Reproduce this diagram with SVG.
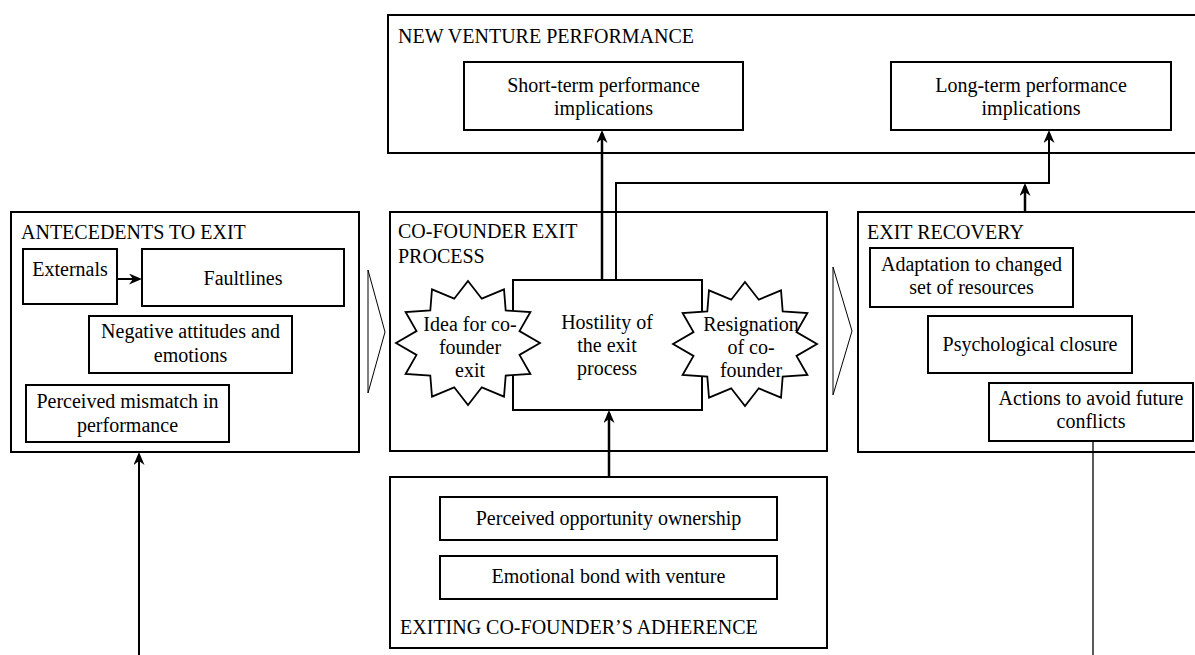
<svg xmlns="http://www.w3.org/2000/svg" xmlns:xlink="http://www.w3.org/1999/xlink" width="1195" height="655" viewBox="0 0 1195 655" font-family="'Liberation Serif', serif">
<style>
  text{font-family:'Liberation Serif','DejaVu Serif',serif;font-size:20px;fill:#000}
  .c{text-anchor:middle}
  .box{fill:#fff;stroke:#000;stroke-width:2}
  .chev{fill:#fff;stroke:#000;stroke-width:1}
  .star{fill:#fff;stroke:#000;stroke-width:1.8;stroke-linejoin:miter}
  .arr{fill:none;stroke:#000;stroke-width:2.5;marker-end:url(#ah)}
  .arr2{fill:none;stroke:#000;stroke-width:2;marker-end:url(#ah)}
  .ln{fill:none;stroke:#000;stroke-width:1.3}
</style>
<defs>
  <marker id="ah" markerUnits="userSpaceOnUse" viewBox="0 0 13 11" refX="10" refY="5.5" markerWidth="13" markerHeight="11" orient="auto">
    <path d="M0,0 L13,5.5 L0,11 L4,5.5 Z" fill="#000"/>
  </marker>
  <path id="burst" d="M0,-62 L13.8,-44.3 L36,-53.7 L37.7,-32.5 L62.4,-31 L51.5,-11.9 L72,0 L51.5,11.9 L62.4,31 L37.7,32.5 L36,53.7 L13.8,44.3 L0,62 L-13.8,44.3 L-36,53.7 L-37.7,32.5 L-62.4,31 L-51.5,11.9 L-72,0 L-51.5,-11.9 L-62.4,-31 L-37.7,-32.5 L-36,-53.7 L-13.8,-44.3 Z"/>
</defs>
<rect width="1195" height="655" fill="#fff"/>

<g id="new-venture-performance">
  <rect class="box" x="388" y="15" width="820" height="138"/>
  <text x="398" y="43">NEW VENTURE PERFORMANCE</text>
</g>
<g id="short-term">
  <rect class="box" x="464" y="62" width="279" height="68"/>
  <text class="c" x="603.5" y="92">Short-term performance</text>
  <text class="c" x="603.5" y="115">implications</text>
</g>
<g id="long-term">
  <rect class="box" x="891" y="62" width="280" height="68"/>
  <text class="c" x="1031" y="92">Long-term performance</text>
  <text class="c" x="1031" y="115">implications</text>
</g>

<g id="antecedents">
  <rect class="box" x="11" y="212" width="348" height="240"/>
  <text x="21" y="239">ANTECEDENTS TO EXIT</text>
</g>
<g id="externals">
  <rect class="box" x="23" y="249" width="94" height="55"/>
  <text class="c" x="70" y="276">Externals</text>
</g>
<g id="faultlines">
  <rect class="box" x="142" y="249" width="202" height="57"/>
  <text class="c" x="243" y="285">Faultlines</text>
</g>
<g id="negative-attitudes">
  <rect class="box" x="89" y="316" width="203" height="57"/>
  <text class="c" x="190.5" y="338">Negative attitudes and</text>
  <text class="c" x="190.5" y="362">emotions</text>
</g>
<g id="perceived-mismatch">
  <rect class="box" x="26" y="385" width="203" height="57"/>
  <text class="c" x="127.5" y="408">Perceived mismatch in</text>
  <text class="c" x="127.5" y="432">performance</text>
</g>

<g id="chevron-1"><polygon class="chev" points="368,270 385,332 368,393"/></g>

<g id="exit-process">
  <rect class="box" x="390" y="212" width="437" height="239"/>
  <text x="398" y="238">CO-FOUNDER EXIT</text>
  <text x="398" y="263">PROCESS</text>
</g>
<g id="hostility">
  <rect class="box" x="513" y="280" width="189" height="130"/>
  <text class="c" x="607" y="329">Hostility of</text>
  <text class="c" x="607" y="352">the exit</text>
  <text class="c" x="607" y="375">process</text>
</g>
<g id="idea">
  <use xlink:href="#burst" class="star" x="468" y="343"/>
  <text class="c" x="470" y="331">Idea for co-</text>
  <text class="c" x="470" y="354">founder</text>
  <text class="c" x="470" y="377">exit</text>
</g>
<g id="resignation">
  <use xlink:href="#burst" class="star" x="745" y="344"/>
  <text class="c" x="751" y="331">Resignation</text>
  <text class="c" x="751" y="354">of co-</text>
  <text class="c" x="751" y="377">founder</text>
</g>

<g id="chevron-2"><polygon class="chev" points="833,267 852,331 833,395"/></g>

<g id="exit-recovery">
  <rect class="box" x="858" y="212" width="360" height="240"/>
  <text x="867" y="239">EXIT RECOVERY</text>
</g>
<g id="adaptation">
  <rect class="box" x="870" y="248" width="203" height="59"/>
  <text class="c" x="971.5" y="271">Adaptation to changed</text>
  <text class="c" x="971.5" y="294">set of resources</text>
</g>
<g id="psychological-closure">
  <rect class="box" x="928" y="316" width="204" height="57"/>
  <text class="c" x="1030" y="351">Psychological closure</text>
</g>
<g id="actions">
  <rect class="box" x="989" y="383" width="204" height="58"/>
  <text class="c" x="1091" y="405">Actions to avoid future</text>
  <text class="c" x="1091" y="428">conflicts</text>
</g>

<g id="adherence">
  <rect class="box" x="390" y="477" width="437" height="171"/>
  <text x="400" y="634">EXITING CO-FOUNDER’S ADHERENCE</text>
</g>
<g id="opportunity-ownership">
  <rect class="box" x="440" y="497" width="337" height="43"/>
  <text class="c" x="608.5" y="525">Perceived opportunity ownership</text>
</g>
<g id="emotional-bond">
  <rect class="box" x="440" y="556" width="337" height="43"/>
  <text class="c" x="608.5" y="583">Emotional bond with venture</text>
</g>

<g id="connectors">
  <line class="arr" x1="602" y1="280" x2="602" y2="133"/>
  <polyline class="arr2" points="616,280 616,183 1049,183 1049,133"/>
  <line class="arr" x1="1025" y1="212" x2="1025" y2="186"/>
  <line class="arr" x1="609" y1="477" x2="609" y2="413"/>
  <line class="arr2" x1="139" y1="655" x2="139" y2="455"/>
  <line class="arr2" x1="117" y1="279" x2="139" y2="279"/>
  <line class="ln" x1="1093" y1="441" x2="1093" y2="655"/>
</g>
</svg>
